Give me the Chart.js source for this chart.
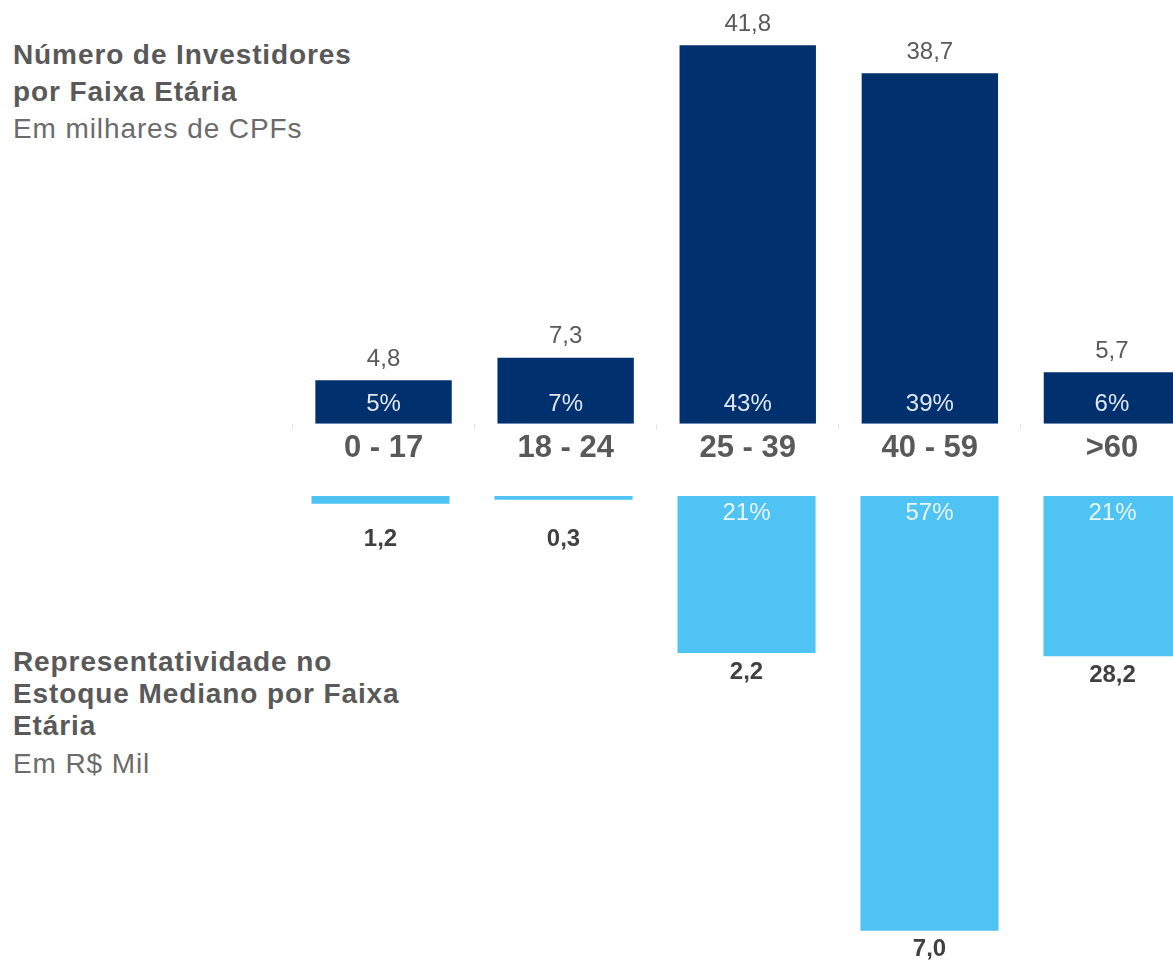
<!DOCTYPE html>
<html lang="pt-BR">
<head>
<meta charset="utf-8">
<title>Investidores por Faixa Etária</title>
<script src="https://cdn.jsdelivr.net/npm/chart.js@4.4.1/dist/chart.umd.min.js"></script>
<style>
  html, body {
    margin: 0;
    padding: 0;
    width: 1173px;
    height: 962px;
    overflow: hidden;
    background: #ffffff;
    font-family: "Liberation Sans", Arial, sans-serif;
  }
  #topChart { position: absolute; left: 0; top: 0; }
  #bottomChart { position: absolute; left: 0; top: 496px; }
  .title {
    position: absolute;
    left: 13px;
    font-size: 28px;
    letter-spacing: 0.9px;
    font-weight: bold;
    color: #595959;
  }
  .sub {
    position: absolute;
    left: 13px;
    font-size: 28px;
    letter-spacing: 0.9px;
    color: #6b6b6b;
    line-height: 37px;
  }
</style>
</head>
<body>
<div class="title" style="top:36px; line-height:37px;">Número de Investidores<br>por Faixa Etária</div>
<div class="sub" style="top:110px;">Em milhares de CPFs</div>

<div class="title" style="top:646px; line-height:32px;">Representatividade no<br>Estoque Mediano por Faixa<br>Etária</div>
<div class="sub" style="top:745px;">Em R$ Mil</div>

<canvas id="topChart" width="1203" height="467"></canvas>
<canvas id="bottomChart" width="1204" height="466"></canvas>

<script>
const ageGroups = ["0 - 17", "18 - 24", "25 - 39", "40 - 59", ">60"];
// Número de investidores (milhares de CPFs)
const investors = [4.8, 7.3, 41.8, 38.7, 5.7];
const investorShare = [5, 7, 43, 39, 6];
// Representatividade no estoque (%), e estoque mediano (R$ mil)
const stockShare = [1.0, 0.5, 20.6, 57.0, 21.0];
const medianStock = [1.2, 0.3, 2.2, 7.0, 28.2];

const navy = "#00306e";
const lightBlue = "#4fc3f3";
const fontFamily = '"Liberation Sans", Arial, sans-serif';

Chart.defaults.font.family = fontFamily;

function fmt(v) {
  return v.toFixed(1).replace(".", ",");
}

// rótulos das barras de cima
const topLabels = {
  id: "topLabels",
  afterDatasetsDraw(chart) {
    const ctx = chart.ctx;
    ctx.save();
    ctx.textAlign = "center";
    ctx.textBaseline = "middle";
    chart.getDatasetMeta(0).data.forEach((bar, i) => {
      ctx.font = "24px " + fontFamily;
      ctx.fillStyle = "#595959";
      ctx.fillText(fmt(investors[i]), bar.x, bar.y - 21);
      ctx.fillStyle = "#dfe7f1";
      ctx.fillText(investorShare[i] + "%", bar.x, bar.base - 19);
    });
    ctx.restore();
  },
};

// rótulos das barras de baixo
const bottomLabels = {
  id: "bottomLabels",
  afterDatasetsDraw(chart) {
    const ctx = chart.ctx;
    const zero = chart.scales.y.getPixelForValue(0);
    ctx.save();
    ctx.textAlign = "center";
    ctx.textBaseline = "middle";
    chart.getDatasetMeta(0).data.forEach((bar, i) => {
      if (bar.y - bar.base > 30) {
        ctx.font = "24px " + fontFamily;
        ctx.fillStyle = "#eaf6fd";
        ctx.fillText(Math.round(stockShare[i]) + "%", bar.x, bar.base + 17);
      }
      ctx.font = "bold 24px " + fontFamily;
      ctx.fillStyle = "#404040";
      ctx.fillText(fmt(medianStock[i]), bar.x, Math.max(bar.y + 19, zero + 43));
    });
    ctx.restore();
  },
};

new Chart(document.getElementById("topChart"), {
  type: "bar",
  data: {
    labels: ageGroups,
    datasets: [
      {
        data: investors,
        backgroundColor: navy,
        barPercentage: 0.749,
        categoryPercentage: 1,
      },
    ],
  },
  options: {
    responsive: false,
    animation: false,
    layout: { padding: { left: 292.5, right: 0, top: 0, bottom: 0 } },
    plugins: { legend: { display: false }, tooltip: { enabled: false } },
    scales: {
      x: {
        grid: { drawOnChartArea: false, tickLength: 6, color: "#e4e4e4" },
        border: { display: false },
        ticks: {
          font: { size: 31, weight: "bold" },
          color: "#595959",
          padding: 0,
        },
      },
      y: { display: false, min: 0, max: 46.8 },
    },
  },
  plugins: [topLabels],
});

new Chart(document.getElementById("bottomChart"), {
  type: "bar",
  data: {
    labels: ageGroups,
    datasets: [
      {
        data: stockShare,
        backgroundColor: lightBlue,
        barPercentage: 0.7545,
        categoryPercentage: 1,
      },
    ],
  },
  options: {
    responsive: false,
    animation: false,
    layout: { padding: { left: 289, right: 0, top: 0, bottom: 0 } },
    plugins: { legend: { display: false }, tooltip: { enabled: false } },
    scales: {
      x: { display: false },
      y: { display: false, reverse: true, min: 0, max: 61.1 },
    },
  },
  plugins: [bottomLabels],
});
</script>
</body>
</html>
